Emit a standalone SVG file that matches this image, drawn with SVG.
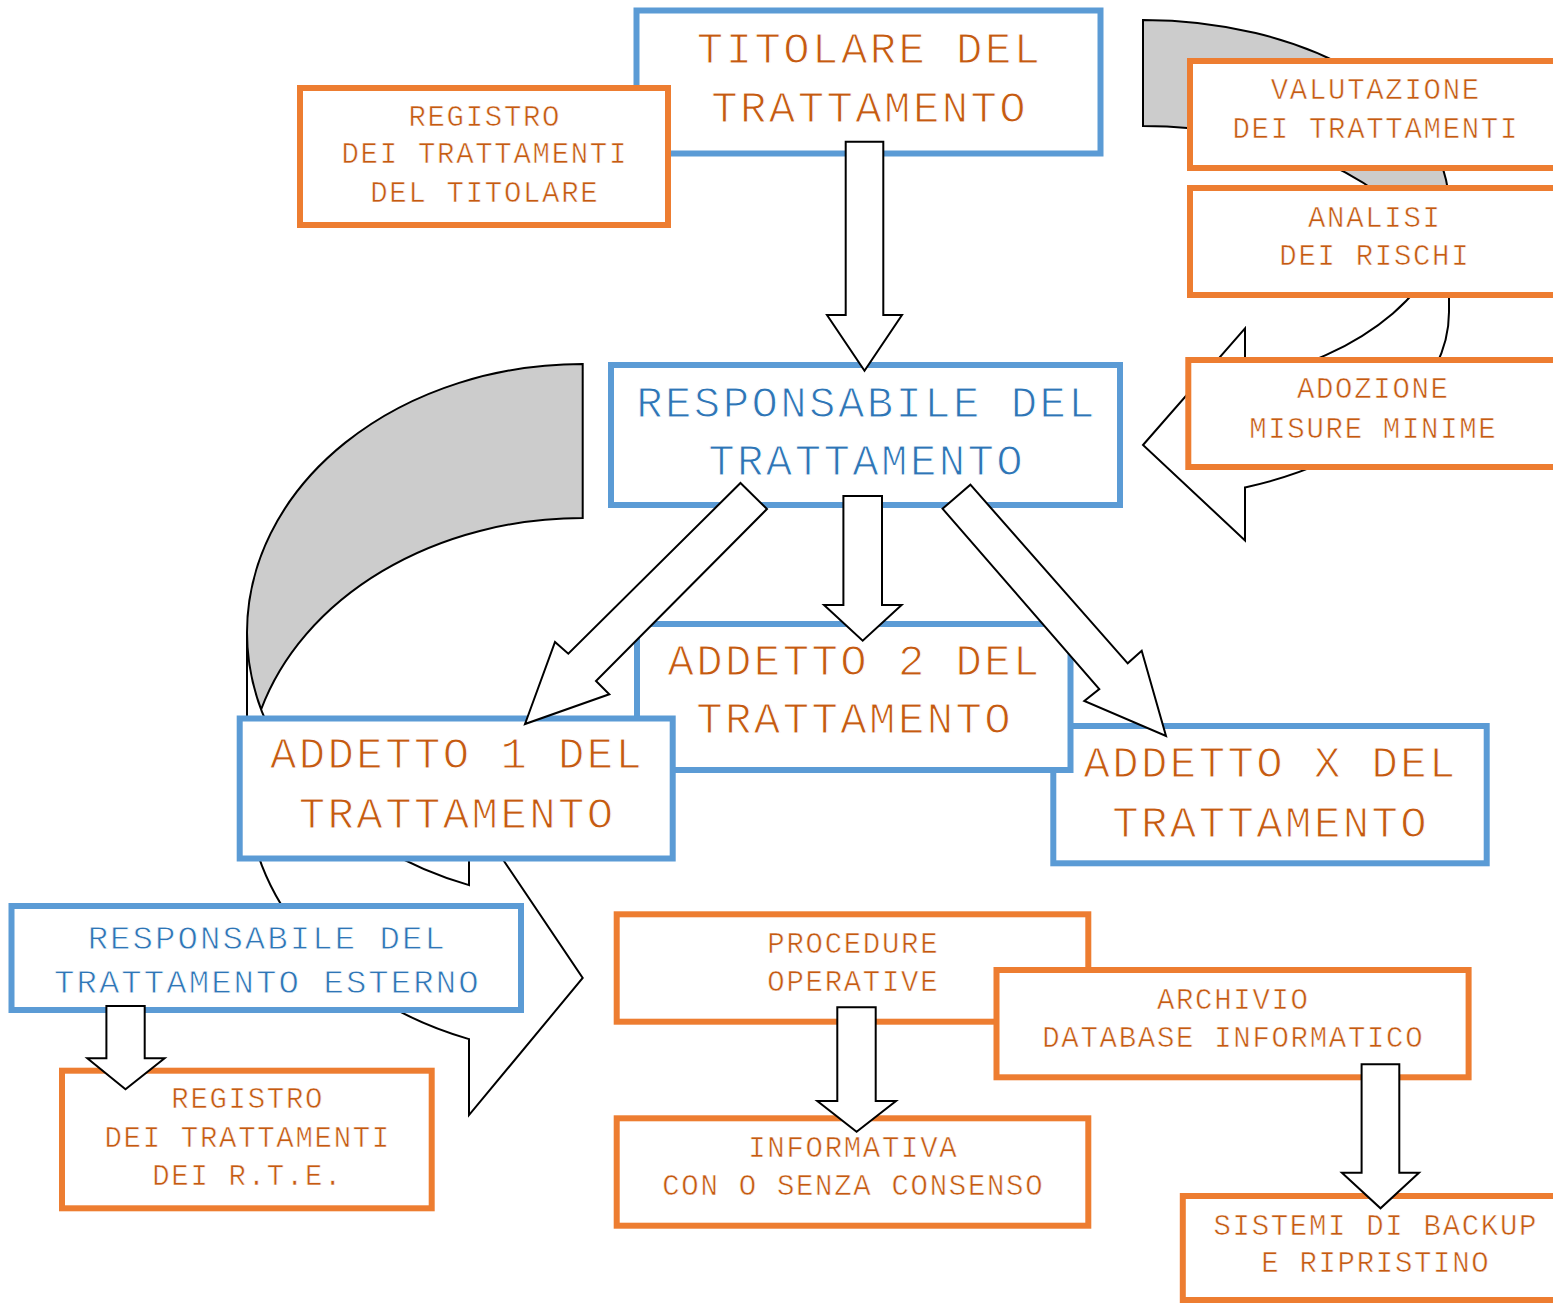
<svg xmlns="http://www.w3.org/2000/svg" width="1553" height="1303" viewBox="0 0 1553 1303">
<style>
.box{fill:#fff;stroke-width:6}
.blue{stroke:#5B9BD5}
.orange{stroke:#ED7D31}
text{font-family:'Courier New','Liberation Mono',monospace;text-anchor:middle;stroke:#fff}
.tb{font-size:44px;letter-spacing:2.4px;fill:#C55A11;stroke-width:1.1px}
.tbb{font-size:44px;letter-spacing:2.4px;fill:#2E75B6;stroke-width:1.1px}
.tm{font-size:34px;letter-spacing:2.05px;fill:#2E75B6;stroke-width:0.8px}
.ts{font-size:29px;letter-spacing:1.7px;fill:#C55A11;stroke-width:0.55px}
.arr{fill:#fff;stroke:#000;stroke-width:2}
.face{fill:#fff;stroke:none}
.back{fill:#CCCCCC;stroke:none}
.edge{fill:none;stroke:#000;stroke-width:2}
</style>
<rect width="1553" height="1303" fill="#fff"/>
<g id="connectors-curved">
  <g id="curved-left">
    <path class="face" d="M247,632.5 A335.7 268.5 0 0 0 469,885.1 L469,809.1 L582.7,978 L469,1115.1 L469,1039.1 A335.7 268.5 0 0 1 247,786.5 Z"/>
    <path class="back" d="M582.7,518 A335.7 268.5 0 0 0 261.1,709.5 A335.7 268.5 0 0 1 582.7,364 Z"/>
    <path class="edge" d="M247,632.5 A335.7 268.5 0 0 0 469,885.1 L469,809.1 L582.7,978 L469,1115.1 L469,1039.1 A335.7 268.5 0 0 1 247,786.5 L247,632.5 A335.7 268.5 0 0 1 582.7,364 L582.7,518 A335.7 268.5 0 0 0 261.1,709.5"/>
  </g>
  <g id="curved-right">
    <path class="face" d="M1449,206 A306 186 0 0 1 1245,381.4 L1245,328.4 L1143,445 L1245,540.4 L1245,487.4 A306 186 0 0 0 1449,312 Z"/>
    <path class="back" d="M1143,126 A306 186 0 0 1 1436.3,259 A306 186 0 0 0 1143,20 Z"/>
    <path class="edge" d="M1449,206 A306 186 0 0 1 1245,381.4 L1245,328.4 L1143,445 L1245,540.4 L1245,487.4 A306 186 0 0 0 1449,312 L1449,206 A306 186 0 0 0 1143,20 L1143,126 A306 186 0 0 1 1436.3,259"/>
  </g>
</g>
<g id="titolare">
  <rect class="box blue" x="636.5" y="10.5" width="464" height="143"/>
  <text class="tb" x="869.7" y="62.7">TITOLARE DEL</text>
  <text class="tb" x="869.7" y="121.7">TRATTAMENTO</text>
</g>
<g id="registro-titolare">
  <rect class="box orange" x="300" y="88" width="368" height="137"/>
  <text class="ts" x="484.8" y="126">REGISTRO</text>
  <text class="ts" x="484.8" y="163.3">DEI TRATTAMENTI</text>
  <text class="ts" x="484.8" y="201.7">DEL TITOLARE</text>
</g>
<g id="responsabile">
  <rect class="box blue" x="611" y="365" width="509" height="140"/>
  <text class="tbb" x="866.7" y="416.7">RESPONSABILE DEL</text>
  <text class="tbb" x="866.7" y="475">TRATTAMENTO</text>
</g>
<g id="addetto-x">
  <rect class="box blue" x="1053.3" y="726" width="433.4" height="137.3"/>
  <text class="tb" x="1270.7" y="777.3">ADDETTO X DEL</text>
  <text class="tb" x="1270.7" y="836.7">TRATTAMENTO</text>
</g>
<g id="addetto-2">
  <rect class="box blue" x="637" y="624" width="433.5" height="146"/>
  <text class="tb" x="854.7" y="675">ADDETTO 2 DEL</text>
  <text class="tb" x="854.7" y="733">TRATTAMENTO</text>
</g>
<g id="addetto-1">
  <rect class="box blue" x="239.7" y="718.5" width="433" height="140"/>
  <text class="tb" x="457.2" y="768">ADDETTO 1 DEL</text>
  <text class="tb" x="457.2" y="827.6">TRATTAMENTO</text>
</g>
<g id="responsabile-esterno">
  <rect class="box blue" x="11.5" y="906" width="509.5" height="104"/>
  <text class="tm" x="267.3" y="949.3">RESPONSABILE DEL</text>
  <text class="tm" x="267.3" y="993.3">TRATTAMENTO ESTERNO</text>
</g>
<g id="registro-rte">
  <rect class="box orange" x="62" y="1070.7" width="369.7" height="137.6"/>
  <text class="ts" x="247.7" y="1108.3">REGISTRO</text>
  <text class="ts" x="247.7" y="1146.7">DEI TRATTAMENTI</text>
  <text class="ts" x="247.7" y="1185">DEI R.T.E.</text>
</g>
<g id="procedure">
  <rect class="box orange" x="616.7" y="914.3" width="471.6" height="107.4"/>
  <text class="ts" x="853.3" y="952.7">PROCEDURE</text>
  <text class="ts" x="853.3" y="990.7">OPERATIVE</text>
</g>
<g id="archivio">
  <rect class="box orange" x="996.5" y="970" width="472.1" height="107.3"/>
  <text class="ts" x="1233.3" y="1009">ARCHIVIO</text>
  <text class="ts" x="1233.3" y="1046.7">DATABASE INFORMATICO</text>
</g>
<g id="informativa">
  <rect class="box orange" x="616.7" y="1118.3" width="471.6" height="107.4"/>
  <text class="ts" x="853.3" y="1156.7">INFORMATIVA</text>
  <text class="ts" x="853.3" y="1195">CON O SENZA CONSENSO</text>
</g>
<g id="sistemi-backup">
  <rect class="box orange" x="1182.8" y="1196" width="384" height="104"/>
  <text class="ts" x="1375.8" y="1235">SISTEMI DI BACKUP</text>
  <text class="ts" x="1375.8" y="1272.3">E RIPRISTINO</text>
</g>
<g id="valutazione">
  <rect class="box orange" x="1190" y="61" width="370" height="107"/>
  <text class="ts" x="1375.8" y="99">VALUTAZIONE</text>
  <text class="ts" x="1375.8" y="137.5">DEI TRATTAMENTI</text>
</g>
<g id="analisi">
  <rect class="box orange" x="1190" y="188" width="370" height="107"/>
  <text class="ts" x="1374.8" y="226.8">ANALISI</text>
  <text class="ts" x="1374.8" y="265">DEI RISCHI</text>
</g>
<g id="adozione">
  <rect class="box orange" x="1188.3" y="360" width="369" height="107"/>
  <text class="ts" x="1373.3" y="398.2">ADOZIONE</text>
  <text class="ts" x="1373.3" y="437.5">MISURE MINIME</text>
</g>
<g id="connectors">
  <polygon class="arr" points="845.7,141.7 883.3,141.7 883.3,315 902,315 864.5,370.7 827,315 845.7,315"/>
  <polygon class="arr" points="843.4,496 882,496 882,605 901.6,605 862.7,640.7 824,605 843.4,605"/>
  <polygon class="arr" points="740.5,483 767,509 596,681 609.3,694.3 525,724 555,642 568.3,653.7"/>
  <polygon class="arr" points="942.5,508.7 970.4,484.7 1127.7,663.3 1141.7,650.7 1166,736 1084.3,701 1099.3,689"/>
  <polygon class="arr" points="106.4,1006 144.7,1006 144.7,1058.3 164.6,1058.3 125.5,1089.3 87.3,1058.3 106.4,1058.3"/>
  <polygon class="arr" points="837.3,1007.3 875.7,1007.3 875.7,1101 896,1101 856.6,1131.7 817.3,1101 837.3,1101"/>
  <polygon class="arr" points="1361.6,1064.3 1399.3,1064.3 1399.3,1172.7 1419,1172.7 1380.5,1208.3 1341.9,1172.7 1361.6,1172.7"/>
</g>
</svg>
